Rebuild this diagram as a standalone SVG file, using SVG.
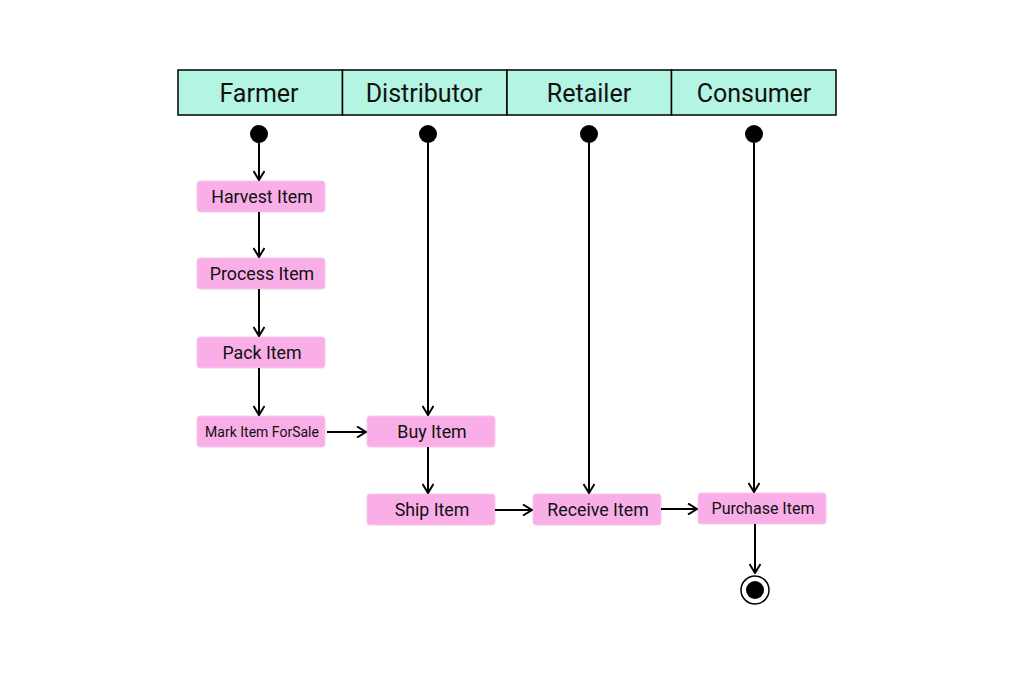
<svg xmlns="http://www.w3.org/2000/svg" width="1010" height="684" viewBox="0 0 1010 684">
<defs>
<marker id="arr" viewBox="0 0 12 12" refX="11" refY="6" markerWidth="12" markerHeight="12" markerUnits="userSpaceOnUse" orient="auto">
<path d="M2,0.5 L11,6 L2,11.5" fill="none" stroke="#000" stroke-width="2"/>
</marker>
</defs>
<style>
.lane{fill:#b4f4e3;stroke:#000;stroke-width:1.5}
.lt{font-family:Roboto,"Liberation Sans",sans-serif;font-size:25px;fill:#111;text-anchor:middle}
.box{fill:#f9aee8;stroke:#f4c8ec;stroke-width:1}
.bt{font-family:Roboto,"Liberation Sans",sans-serif;font-size:17.8px;fill:#111;text-anchor:middle}
.st{fill:#000}
.c{stroke:#000;stroke-width:2;fill:none;marker-end:url(#arr)}
</style>
<rect width="1010" height="684" fill="#fff"/>
<g id="lanes">
<rect class="lane" x="178" y="70" width="164.5" height="45"/>
<rect class="lane" x="342.5" y="70" width="164.5" height="45"/>
<rect class="lane" x="507" y="70" width="164.5" height="45"/>
<rect class="lane" x="671.5" y="70" width="164.5" height="45"/>
<text class="lt" x="259" y="102">Farmer</text>
<text class="lt" x="424" y="102">Distributor</text>
<text class="lt" x="589" y="102">Retailer</text>
<text class="lt" x="754" y="102">Consumer</text>
</g>
<g id="start-farmer"><circle class="st" cx="259" cy="134" r="9"/></g>
<g id="start-distributor"><circle class="st" cx="428" cy="134" r="9"/></g>
<g id="start-retailer"><circle class="st" cx="589" cy="134" r="9"/></g>
<g id="start-consumer"><circle class="st" cx="754" cy="134" r="9"/></g>
<g id="harvest"><rect class="box" x="197" y="181" width="128" height="31" rx="3"/><text class="bt" x="262" y="203">Harvest Item</text></g>
<g id="process"><rect class="box" x="197" y="258" width="128" height="31" rx="3"/><text class="bt" x="262" y="280">Process Item</text></g>
<g id="pack"><rect class="box" x="197" y="337" width="128" height="31" rx="3"/><text class="bt" x="262" y="359">Pack Item</text></g>
<g id="mark"><rect class="box" x="197" y="416" width="128" height="31" rx="3"/><text class="bt" x="262" y="437" style="font-size:14px">Mark Item ForSale</text></g>
<g id="buy"><rect class="box" x="367" y="416" width="128" height="31" rx="3"/><text class="bt" x="432" y="438">Buy Item</text></g>
<g id="ship"><rect class="box" x="367" y="494" width="128" height="31" rx="3"/><text class="bt" x="432" y="516">Ship Item</text></g>
<g id="receive"><rect class="box" x="533" y="494" width="128" height="31" rx="3"/><text class="bt" x="598" y="516">Receive Item</text></g>
<g id="purchase"><rect class="box" x="698" y="493" width="128" height="31" rx="3"/><text class="bt" x="763" y="514" style="font-size:16px">Purchase Item</text></g>
<g id="end"><circle cx="755" cy="590" r="14" fill="#fff" stroke="#000" stroke-width="1.5"/><circle class="st" cx="755" cy="590" r="9"/></g>
<g id="connectors">
<line class="c" x1="259" y1="143" x2="259" y2="180"/>
<line class="c" x1="259" y1="212" x2="259" y2="257"/>
<line class="c" x1="259" y1="289" x2="259" y2="336"/>
<line class="c" x1="259" y1="368" x2="259" y2="415"/>
<line class="c" x1="428" y1="143" x2="428" y2="415"/>
<line class="c" x1="428" y1="447" x2="428" y2="493"/>
<line class="c" x1="589" y1="143" x2="589" y2="493"/>
<line class="c" x1="754" y1="143" x2="754" y2="492"/>
<line class="c" x1="755" y1="524" x2="755" y2="573"/>
<line class="c" x1="327" y1="432" x2="366" y2="432"/>
<line class="c" x1="495" y1="510" x2="532" y2="510"/>
<line class="c" x1="661" y1="509" x2="697" y2="509"/>
</g>
</svg>
